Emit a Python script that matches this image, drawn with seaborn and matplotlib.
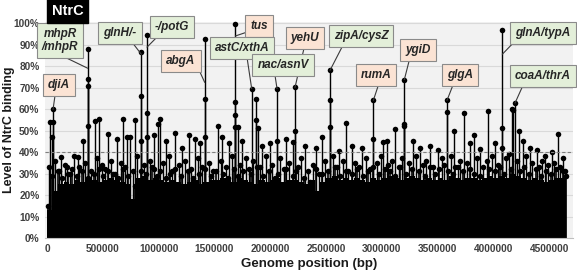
import numpy as np
import pandas as pd
import matplotlib
matplotlib.use("Agg")
import matplotlib.pyplot as plt
import seaborn as sns

# ---------------- data ----------------
# labelled / tall peaks: position (bp) and binding level (fraction); repeated positions = several points on one stem
peak_pos = [56000, 56000, 364000, 364000, 364000, 364000,
            845000, 845000, 845000, 896000, 896000, 896000,
            1413000, 1413000, 1413000, 1688000, 1688000, 1688000, 1688000,
            1834000, 1873000, 1873000, 2061000, 2061000, 2222000, 2222000,
            2536000, 2536000, 2536000, 2924000, 2924000,
            3202000, 3202000, 3202000, 3584000, 3584000,
            4080000, 4080000, 4080000, 4194000, 4164000, 4178000]
peak_val = [0.60, 0.54, 0.88, 0.74, 0.705, 0.52,
            0.865, 0.66, 0.45, 0.944, 0.58, 0.47,
            0.924, 0.648, 0.47, 0.995, 0.635, 0.57, 0.515,
            0.695, 0.648, 0.55, 0.695, 0.45, 0.703, 0.50,
            0.78, 0.64, 0.515, 0.64, 0.46,
            0.737, 0.53, 0.52, 0.64, 0.585,
            0.967, 0.512, 0.42, 0.628, 0.60, 0.595]

# medium peaks (40-60 %)
mid_pos = [27000, 45000, 125000, 176000, 281000, 326000, 430000, 469000, 544000, 630000,
           684000, 720000, 741000, 791000, 959000, 995000, 1015000, 1066000, 1144000, 1210000,
           1270000, 1323000, 1371000, 1530000, 1568000, 1634000, 1708000, 1747000, 1888000, 1927000,
           1998000, 2142000, 2202000, 2312000, 2411000, 2467000, 2617000, 2677000, 2733000, 2823000,
           3014000, 3047000, 3120000, 3280000, 3342000, 3432000, 3504000, 3650000, 3734000, 3790000,
           3823000, 3883000, 3955000, 4015000, 4232000, 4263000, 4328000, 4391000, 4463000, 4525000,
           4576000, 4624000]
mid_val = [0.54, 0.47, 0.375, 0.33, 0.375, 0.453, 0.545, 0.555, 0.485, 0.461,
           0.555, 0.47, 0.47, 0.55, 0.48, 0.53, 0.555, 0.45, 0.49, 0.42,
           0.48, 0.46, 0.44, 0.52, 0.47, 0.44, 0.515, 0.45, 0.51, 0.43,
           0.44, 0.46, 0.445, 0.43, 0.42, 0.47, 0.405, 0.534, 0.43, 0.42,
           0.447, 0.45, 0.505, 0.45, 0.42, 0.43, 0.41, 0.50, 0.58, 0.44,
           0.48, 0.415, 0.593, 0.44, 0.50, 0.45, 0.42, 0.41, 0.38, 0.40,
           0.485, 0.37]

# low spikes (30-40 %), positions in kb
low_pos = [20, 75, 110, 160, 210, 240, 290, 340, 395, 450, 490, 520, 575, 610, 660, 700,
           770, 810, 870, 920, 960, 1040, 1090, 1120, 1180, 1240, 1290, 1350, 1390, 1450,
           1490, 1560, 1600, 1660, 1730, 1780, 1810, 1850, 1910, 1960, 2020, 2090, 2120,
           2170, 2250, 2280, 2340, 2380, 2440, 2490, 2560, 2600, 2650, 2700, 2760, 2800,
           2860, 2890, 2960, 2990, 3060, 3090, 3150, 3180, 3240, 3310, 3370, 3400, 3460,
           3540, 3560, 3620, 3680, 3700, 3760, 3850, 3910, 3940, 3990, 4040, 4110, 4140,
           4210, 4290, 4350, 4410, 4440, 4490, 4540, 4600, 4640]
low_val = [0.33, 0.36, 0.31, 0.34, 0.30, 0.38, 0.33, 0.35, 0.31, 0.37, 0.34, 0.32, 0.36, 0.30, 0.35, 0.33,
           0.31, 0.38, 0.34, 0.36, 0.32, 0.35, 0.38, 0.31, 0.34, 0.36, 0.32, 0.37, 0.33, 0.35,
           0.31, 0.36, 0.33, 0.38, 0.34, 0.37, 0.32, 0.36, 0.33, 0.38, 0.34, 0.37, 0.32,
           0.35, 0.33, 0.37, 0.31, 0.34, 0.30, 0.36, 0.38, 0.33, 0.36, 0.31, 0.35, 0.33,
           0.37, 0.32, 0.35, 0.38, 0.34, 0.36, 0.33, 0.37, 0.35, 0.38, 0.34, 0.36, 0.33,
           0.37, 0.34, 0.38, 0.33, 0.36, 0.35, 0.37, 0.33, 0.36, 0.38, 0.34, 0.37, 0.39,
           0.36, 0.38, 0.35, 0.33, 0.36, 0.34, 0.35, 0.33, 0.31]

# texture spikes on top of the dense mass (27-33 %), positions in kb
low2_pos = [5, 45, 95, 135, 185, 225, 265, 315, 365, 420,
            470, 505, 545, 595, 635, 680, 725, 790, 840, 890,
            940, 985, 1015, 1065, 1105, 1150, 1205, 1260, 1310, 1365,
            1420, 1470, 1515, 1580, 1620, 1680, 1710, 1755, 1830, 1880,
            1935, 1990, 2040, 2070, 2145, 2200, 2230, 2305, 2360, 2410,
            2465, 2520, 2580, 2625, 2680, 2730, 2780, 2830, 2875, 2925,
            2975, 3030, 3075, 3120, 3165, 3215, 3270, 3335, 3385, 3430,
            3480, 3515, 3590, 3640, 3660, 3730, 3790, 3830, 3880, 3960,
            4010, 4060, 4095, 4160, 4240, 4270, 4320, 4380, 4425, 4470,
            4515, 4565, 4620, 4655]
low2_val = [0.15, 0.29, 0.31, 0.28, 0.30, 0.32, 0.29, 0.31, 0.28, 0.30,
            0.32, 0.29, 0.31, 0.30, 0.28, 0.32, 0.29, 0.24, 0.31, 0.30,
            0.33, 0.29, 0.31, 0.28, 0.30, 0.32, 0.29, 0.31, 0.28, 0.30,
            0.32, 0.29, 0.31, 0.30, 0.28, 0.32, 0.29, 0.31, 0.30, 0.33,
            0.29, 0.31, 0.28, 0.30, 0.32, 0.29, 0.31, 0.28, 0.26, 0.32,
            0.30, 0.31, 0.33, 0.29, 0.31, 0.30, 0.32, 0.29, 0.31, 0.33,
            0.30, 0.32, 0.31, 0.29, 0.33, 0.30, 0.32, 0.31, 0.29, 0.33,
            0.30, 0.32, 0.31, 0.30, 0.33, 0.31, 0.32, 0.30, 0.29, 0.32,
            0.31, 0.33, 0.30, 0.32, 0.31, 0.33, 0.30, 0.32, 0.29, 0.31,
            0.30, 0.32, 0.31, 0.29]

# dense background mass: top of the solid block in 50 kb windows starting at 0
bg_start = [i * 50000 for i in range(93)]
bg_top = [0.13, 0.22, 0.25, 0.26, 0.25, 0.27, 0.26, 0.28, 0.27, 0.26,
          0.27, 0.28, 0.27, 0.26, 0.25, 0.18, 0.28, 0.29, 0.27, 0.28,
          0.27, 0.26, 0.27, 0.26, 0.25, 0.26, 0.27, 0.25, 0.26, 0.27,
          0.27, 0.28, 0.27, 0.26, 0.28, 0.27, 0.26, 0.25, 0.27, 0.26,
          0.27, 0.28, 0.26, 0.27, 0.27, 0.26, 0.25, 0.27, 0.22, 0.26,
          0.28, 0.29, 0.27, 0.28, 0.27, 0.28, 0.27, 0.26, 0.28, 0.27,
          0.28, 0.29, 0.28, 0.27, 0.28, 0.29, 0.28, 0.27, 0.28, 0.27,
          0.28, 0.27, 0.29, 0.28, 0.27, 0.28, 0.28, 0.27, 0.28, 0.29,
          0.28, 0.29, 0.28, 0.30, 0.29, 0.28, 0.27, 0.28, 0.27, 0.26,
          0.27, 0.28, 0.28]

# gene labels
lab_text = ["djiA", "mhpR\n/mhpR", "glnH/-", "-/potG", "abgA", "tus", "astC/xthA", "nac/asnV",
            "yehU", "zipA/cysZ", "rumA", "ygiD", "glgA", "glnA/typA", "coaA/thrA"]
lab_kind = ["r", "g", "g", "g", "r", "r", "g", "g", "r", "g", "r", "r", "r", "g", "g"]
lab_x = [107000, 116000, 654000, 1120000, 1201000, 1900000, 1747000, 2115000,
         2312000, 2814000, 2948000, 3324000, 3701000, 4445000, 4445000]
lab_y = [0.71, 0.92, 0.953, 0.98, 0.822, 0.986, 0.883, 0.804,
         0.93, 0.939, 0.757, 0.874, 0.757, 0.953, 0.752]
lead_x0 = [72000, 161000, 762000, 986000, 1335000, 1792000, 1792000, 2043000,
           2303000, 2643000, 2975000, 3253000, 3647000, 4194000, 4265000]
lead_y0 = [0.664, 0.841, 0.911, 0.935, 0.813, 0.958, 0.841, 0.757,
           0.883, 0.888, 0.72, 0.841, 0.724, 0.916, 0.71]
lead_x1 = [54000, 364000, 845000, 896000, 1413000, 1688000, 1834000, 2061000,
           2222000, 2536000, 2924000, 3202000, 3584000, 4080000, 4194000]
lead_y1 = [0.598, 0.79, 0.855, 0.888, 0.724, 0.94, 0.695, 0.695,
           0.70, 0.78, 0.64, 0.737, 0.64, 0.855, 0.628]

yticks = [0, 0.1, 0.2, 0.3, 0.4, 0.5, 0.6, 0.7, 0.8, 0.9, 1.0]
ytick_labels = ["0%", "10%", "20%", "30%", "40%", "50%", "60%", "70%", "80%", "90%", "100%"]
xticks = [0, 500000, 1000000, 1500000, 2000000, 2500000, 3000000, 3500000, 4000000, 4500000]
xtick_labels = ["0", "500000", "1000000", "1500000", "2000000", "2500000",
                "3000000", "3500000", "4000000", "4500000"]
threshold = 0.40

# ---------------- plot ----------------
sns.set_theme(style="white")
plt.rcParams["font.family"] = ["Liberation Sans", "DejaVu Sans"]

fig = plt.figure(figsize=(5.77, 2.75), dpi=100)
ax = fig.add_axes([0.078, 0.1345, 0.915, 0.7855])
ax.set_facecolor("#f2f2f2")

for t in yticks[1:]:
    ax.axhline(t, color="#d9d9d9", lw=0.8, zorder=0)
ax.axhline(threshold, color="#7f7f7f", lw=0.8, ls=(0, (3, 2)), zorder=5)

# background mass
ax.bar(bg_start, bg_top, width=50000, align="edge", color="black", lw=0, zorder=1)

low_x = [p * 1000 for p in low_pos]
low2_x = [p * 1000 for p in low2_pos]
assert len(low_x) == len(low_val)
assert len(low2_x) == len(low2_val)
assert len(mid_pos) == len(mid_val)
assert len(peak_pos) == len(peak_val)

ax.vlines(low2_x, 0, low2_val, color="black", lw=1.2, zorder=2)
ax.vlines(low_x, 0, low_val, color="black", lw=1.0, zorder=2)
ax.vlines(mid_pos, 0, mid_val, color="black", lw=1.0, zorder=2)
ax.vlines(peak_pos, 0, peak_val, color="black", lw=1.0, zorder=2)

pts = pd.DataFrame({
    "pos": low2_x + low_x + mid_pos + peak_pos,
    "val": low2_val + low_val + mid_val + peak_val,
})
sns.scatterplot(data=pts, x="pos", y="val", ax=ax, color="black", s=16,
                edgecolor="black", linewidth=0, zorder=3, clip_on=False, legend=False)

# leaders and labels
colors = {"r": "#fbe3d4", "g": "#e3efd9"}
for i, txt in enumerate(lab_text):
    ax.plot([lead_x0[i], lead_x1[i]], [lead_y0[i], lead_y1[i]], color="#3a3a3a", lw=0.8, zorder=6)
for i, txt in enumerate(lab_text):
    ax.text(lab_x[i], lab_y[i], txt, ha="center", va="center", fontsize=8.5,
            fontweight="bold", fontstyle="italic", color="#262626", zorder=8,
            linespacing=1.15, clip_on=False,
            bbox=dict(boxstyle="square,pad=0.42", fc=colors[lab_kind[i]], ec="#8a8a8a", lw=0.8))

ax.set_xlim(-18000, 4713000)
ax.set_ylim(0, 1.005)
ax.set_yticks(yticks)
ax.set_yticklabels(ytick_labels, fontsize=7.3, fontweight="bold", color="#404040")
ax.set_xticks(xticks)
ax.set_xticklabels(xtick_labels, fontsize=7.3, fontweight="bold", color="#404040")
ax.tick_params(axis="both", length=0, pad=4)
for s in ["top", "right", "left"]:
    ax.spines[s].set_visible(False)
ax.spines["bottom"].set_color("#bfbfbf")
ax.spines["bottom"].set_linewidth(0.8)

ax.set_xlabel("Genome position (bp)", fontsize=9.5, fontweight="bold", color="#1a1a1a", labelpad=3)
ax.set_ylabel("Level of NtrC binding", fontsize=9, fontweight="bold", color="#1a1a1a",
              rotation_mode="default", ha="center", va="center")
ax.yaxis.set_label_coords(-0.068, 0.5)

fig.text(67.5 / 577, 1 - 11 / 275, "NtrC", ha="center", va="center", fontsize=10.5,
         fontweight="bold", color="white",
         bbox=dict(boxstyle="square,pad=0.35", fc="black", ec="black"))

fig.savefig("out.png", dpi=100)
